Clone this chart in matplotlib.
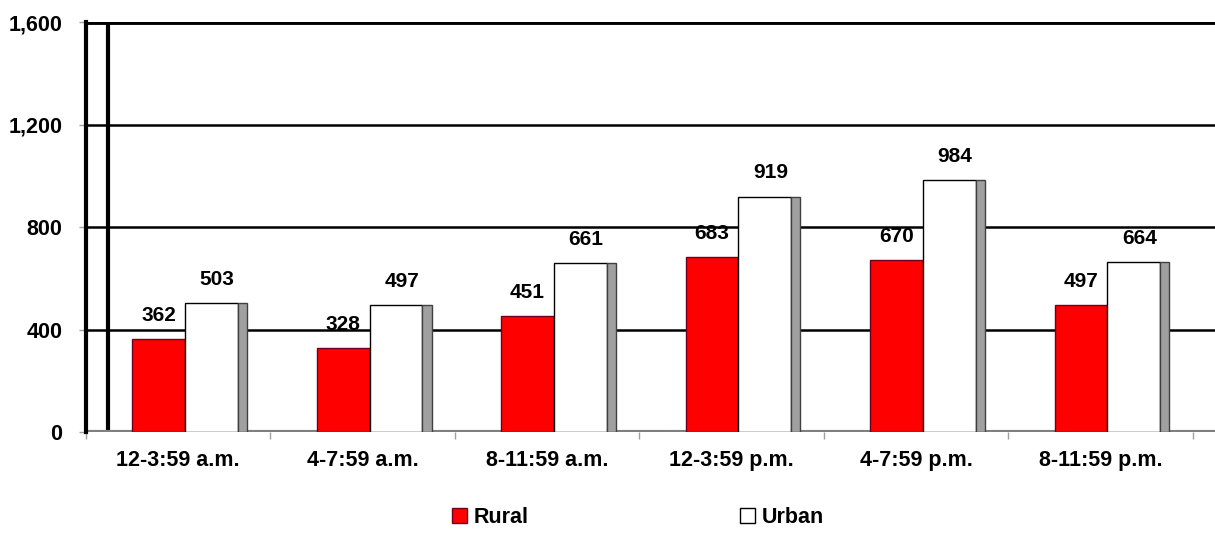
import matplotlib
matplotlib.use("Agg")
import matplotlib.pyplot as plt
from matplotlib.patches import Patch
import numpy as np

plt.rcParams['font.family'] = ['Liberation Sans', 'DejaVu Sans']
plt.rcParams['font.weight'] = 'bold'

# data
periods = ["12-3:59 a.m.", "4-7:59 a.m.", "8-11:59 a.m.",
           "12-3:59 p.m.", "4-7:59 p.m.", "8-11:59 p.m."]
rural = [362, 328, 451, 683, 670, 497]
urban = [503, 497, 661, 919, 984, 664]
yticks = [0, 400, 800, 1200, 1600]

fig = plt.figure(figsize=(12.15, 5.37), dpi=100)
ax = fig.add_axes([86 / 1215, 105 / 537, 1 - 86 / 1215, 410 / 537])

x = np.arange(len(periods))
w = 0.287
r_pos = x + 0.25 + w / 2
u_pos = x + 0.25 + w + w / 2
sh_w = 0.049

# gridlines and frame
for v in [400, 800, 1200]:
    ax.axhline(v, color='black', lw=1.8, zorder=1)
ax.axhline(1600, color='black', lw=3.5, zorder=1)
ax.axvline(0.119, color='black', lw=3, zorder=1)
ax.axhline(0, color='#808080', lw=3, zorder=1)

ax.bar(r_pos, rural, w, color='#ff0000', edgecolor='#6b0020', lw=1, zorder=3)
ax.bar(u_pos, urban, w, color='white', edgecolor='black', lw=1, zorder=3)
ax.bar(u_pos + w / 2 + sh_w / 2, urban, sh_w, color='#a0a0a0', edgecolor='#404040', lw=1, zorder=3)

fs = 15
for p, v in zip(r_pos, rural):
    ax.text(p, v + 55, f"{v:,}", ha='center', va='bottom', fontsize=fs, fontweight='bold')
for p, v in zip(u_pos, urban):
    ax.text(p + 0.03, v + 55, f"{v:,}", ha='center', va='bottom', fontsize=fs, fontweight='bold')

ax.set_xlim(0, 6.12)
ax.set_ylim(0, 1600)

ax.set_yticks(yticks)
ax.set_yticklabels([f"{v:,}" for v in yticks])
ax.tick_params(axis='y', length=5, width=1, color='#a0a0a0', pad=12, labelsize=15.5)

ax.set_xticks(np.arange(0, 7))
ax.set_xticklabels([])
ax.tick_params(axis='x', which='major', length=5, width=1, color='#a0a0a0')
ax.set_xticks(x + 0.5, minor=True)
ax.set_xticklabels(periods, minor=True)
ax.tick_params(axis='x', which='minor', length=0, pad=13, labelsize=15.5)

for s in ['top', 'right', 'bottom']:
    ax.spines[s].set_visible(False)
ax.spines['left'].set_linewidth(3)
ax.spines['left'].set_color('black')

handles = [Patch(facecolor='#ff0000', edgecolor='#6b0020', label='Rural'),
           Patch(facecolor='white', edgecolor='black', label='Urban')]
fig.legend(handles=handles, loc='center', bbox_to_anchor=(0.525, 0.037), ncol=2,
           frameon=False, fontsize=15.5, handlelength=0.7, handleheight=0.7,
           handletextpad=0.3, columnspacing=9.8)

fig.savefig("out.png", dpi=100)
